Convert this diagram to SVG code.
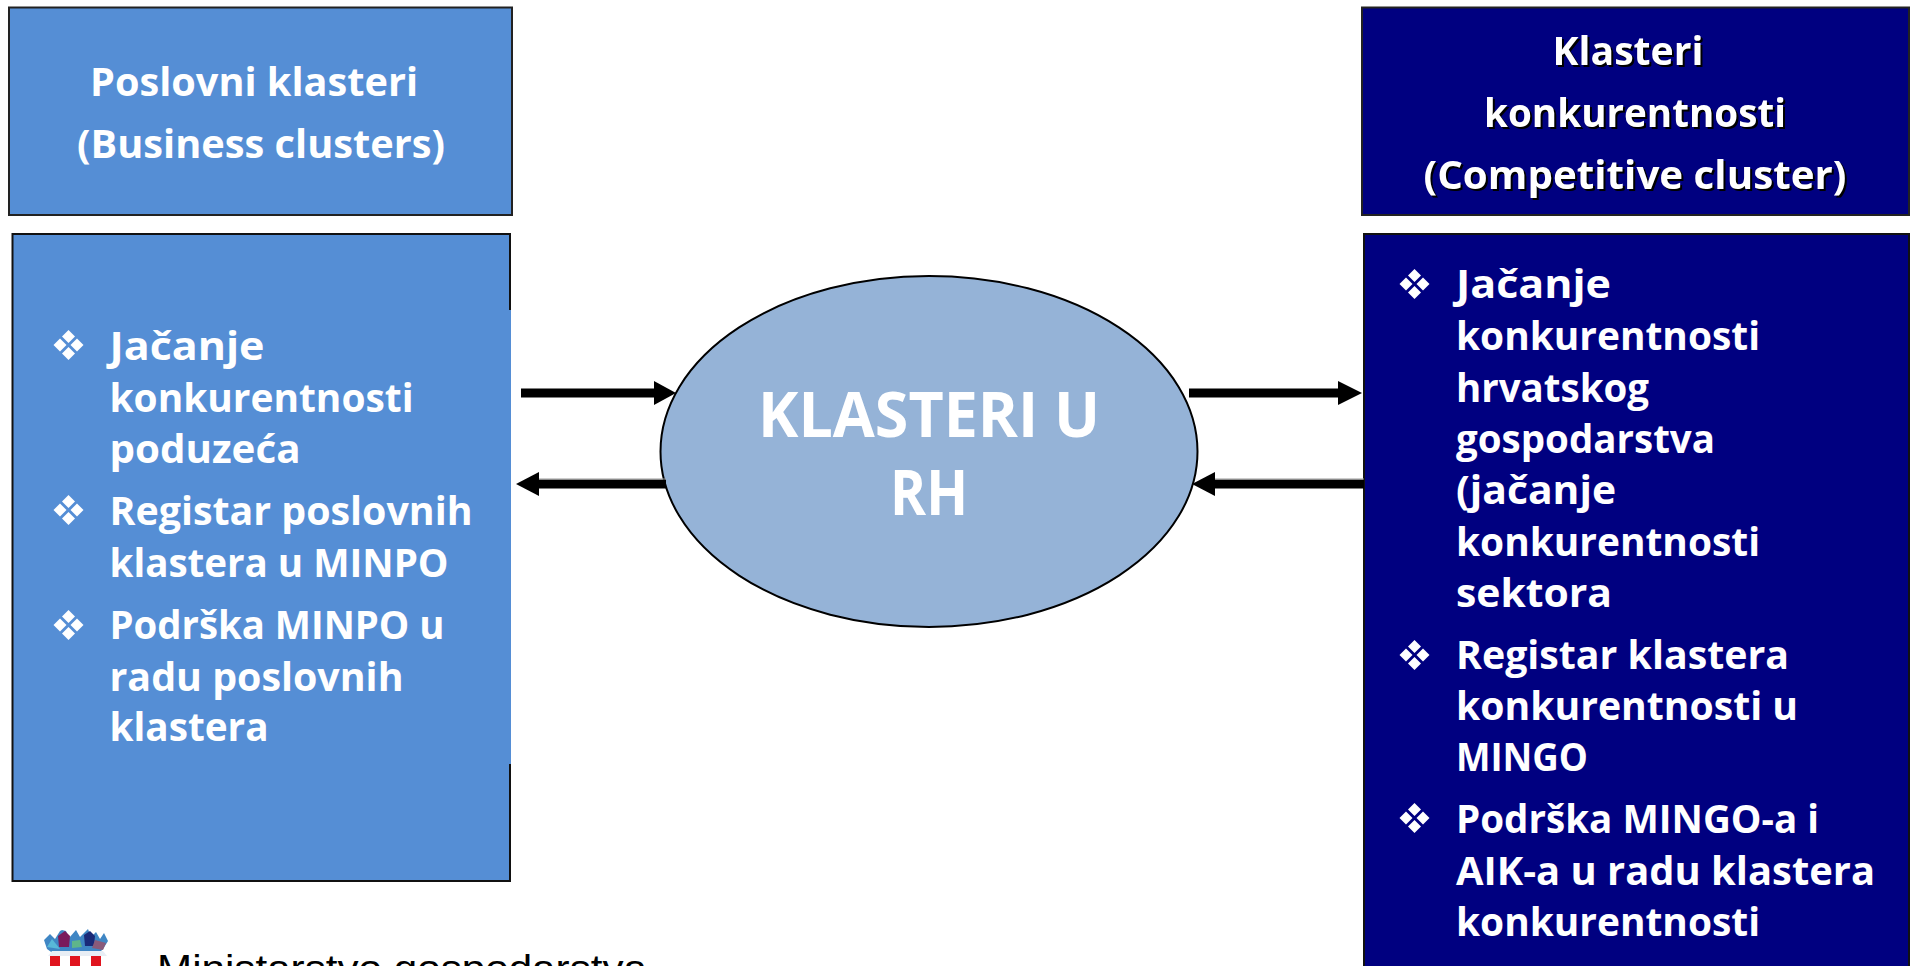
<svg xmlns="http://www.w3.org/2000/svg" width="1915" height="966" viewBox="0 0 1915 966">
<style>
.lb{fill:#558ed5}.nv{fill:#000080}
.t{font-family:"Open Sans","Noto Sans","DejaVu Sans",sans-serif;font-weight:700;font-size:40px;fill:#fff}
.h{text-anchor:middle}
.big{font-size:63px}
.sh{filter:drop-shadow(2px 2px 0 #000)}
.d{fill:#fff}
.conn{stroke:#000;stroke-width:9;fill:none}
.edge{stroke:#999;stroke-width:1;fill:none}
.foot{font-family:"Liberation Sans",Arial,sans-serif;font-size:37px;fill:#000}
</style>
<defs>
<g id="bullet" class="d"><path d="M0-15 6.500-8.500 0-2-6.500-8.500Z"/><path d="M0 2 6.500 8.500 0 15-6.500 8.500Z"/><path d="M-8.500-6.500-2 0-8.500 6.500-15 0Z"/><path d="M8.500-6.500 15 0 8.500 6.500 2 0Z"/></g>
</defs>
<rect width="1915" height="966" fill="#fff"/>
<g id="node-business-header">
<rect x="9" y="7.500" width="503" height="207.500" class="lb" stroke="#222" stroke-width="2"/>
<text class="t h" x="254" y="96" textLength="328" lengthAdjust="spacingAndGlyphs">Poslovni klasteri</text>
<text class="t h" x="261" y="157.500" textLength="368" lengthAdjust="spacingAndGlyphs">(Business clusters)</text>
</g>
<g id="node-business-body">
<rect x="12.500" y="234" width="497.500" height="647" class="lb" stroke="#111" stroke-width="2"/>
<rect x="480" y="310" width="31" height="454" class="lb"/>
<use href="#bullet" x="68.500" y="345"/>
<text class="t" x="109.500" y="359.500" textLength="155" lengthAdjust="spacingAndGlyphs">Jačanje</text>
<text class="t" x="109.500" y="411.500" textLength="304" lengthAdjust="spacingAndGlyphs">konkurentnosti</text>
<text class="t" x="109.500" y="462.500" textLength="191" lengthAdjust="spacingAndGlyphs">poduzeća</text>
<use href="#bullet" x="68.500" y="510"/>
<text class="t" x="109.500" y="525" textLength="363" lengthAdjust="spacingAndGlyphs">Registar poslovnih</text>
<text class="t" x="109.500" y="576.500" textLength="339" lengthAdjust="spacingAndGlyphs">klastera u MINPO</text>
<use href="#bullet" x="68.500" y="625"/>
<text class="t" x="109.500" y="639" textLength="335" lengthAdjust="spacingAndGlyphs">Podrška MINPO u</text>
<text class="t" x="109.500" y="691" textLength="294" lengthAdjust="spacingAndGlyphs">radu poslovnih</text>
<text class="t" x="109.500" y="741" textLength="159" lengthAdjust="spacingAndGlyphs">klastera</text>
</g>
<g id="node-competitive-header">
<rect x="1362" y="7.500" width="547" height="207.500" class="nv" stroke="#222" stroke-width="2"/>
<g class="sh">
<text class="t h" x="1628" y="64.500" textLength="151" lengthAdjust="spacingAndGlyphs">Klasteri</text>
<text class="t h" x="1635" y="127" textLength="302" lengthAdjust="spacingAndGlyphs">konkurentnosti</text>
<text class="t h" x="1635" y="189" textLength="423" lengthAdjust="spacingAndGlyphs">(Competitive cluster)</text>
</g>
</g>
<g id="node-competitive-body">
<rect x="1364" y="234" width="545" height="740" class="nv" stroke="#111" stroke-width="2"/>
<use href="#bullet" x="1414.500" y="284"/>
<text class="t" x="1456" y="297.500" textLength="155" lengthAdjust="spacingAndGlyphs">Jačanje</text>
<text class="t" x="1456" y="349.500" textLength="304" lengthAdjust="spacingAndGlyphs">konkurentnosti</text>
<text class="t" x="1456" y="401.500" textLength="193" lengthAdjust="spacingAndGlyphs">hrvatskog</text>
<text class="t" x="1456" y="452.500" textLength="259" lengthAdjust="spacingAndGlyphs">gospodarstva</text>
<text class="t" x="1456" y="503.500" textLength="160" lengthAdjust="spacingAndGlyphs">(jačanje</text>
<text class="t" x="1456" y="555.500" textLength="304" lengthAdjust="spacingAndGlyphs">konkurentnosti</text>
<text class="t" x="1456" y="606.500" textLength="156" lengthAdjust="spacingAndGlyphs">sektora</text>
<use href="#bullet" x="1414.500" y="655"/>
<text class="t" x="1456" y="668.500" textLength="333" lengthAdjust="spacingAndGlyphs">Registar klastera</text>
<text class="t" x="1456" y="720" textLength="342" lengthAdjust="spacingAndGlyphs">konkurentnosti u</text>
<text class="t" x="1456" y="771" textLength="132" lengthAdjust="spacingAndGlyphs">MINGO</text>
<use href="#bullet" x="1414.500" y="818"/>
<text class="t" x="1456" y="833" textLength="363" lengthAdjust="spacingAndGlyphs">Podrška MINGO-a i</text>
<text class="t" x="1456" y="885" textLength="419" lengthAdjust="spacingAndGlyphs">AIK-a u radu klastera</text>
<text class="t" x="1456" y="936" textLength="304" lengthAdjust="spacingAndGlyphs">konkurentnosti</text>
</g>
<g id="node-center">
<ellipse cx="929" cy="451.500" rx="268.500" ry="175.500" fill="#95b3d7" stroke="#000" stroke-width="2"/>
<text class="t h big" x="929" y="436.500" textLength="342" lengthAdjust="spacingAndGlyphs">KLASTERI U</text>
<text class="t h big" x="929" y="514.500" textLength="78" lengthAdjust="spacingAndGlyphs">RH</text>
</g>
<g id="connectors">
<path class="conn" d="M521 393H656"/><path d="M654 381 676 393 654 405Z"/>
<path class="conn" d="M666 484H537"/><path d="M539 472 516 484 539 496Z"/><path class="edge" d="M539 479H666"/>
<path class="conn" d="M1189 393H1340"/><path d="M1338 381 1362 393 1338 405Z"/>
<path class="conn" d="M1364 484H1213"/><path d="M1215 472 1192 484 1215 496Z"/><path class="edge" d="M1215 479H1364"/>
</g>
<g id="logo">
<path d="M44 940 50 934 55 939 60 931 62 930 66 931 69 938 76 930 80 937 88 929 91 937 96 932 100 939 104 933 108 941 103 949 98 954H54L47 949Z" fill="#3f86c4"/>
<path d="M58 936 65 931 70 936 69 947 59 947Z" fill="#7a1a5c"/>
<path d="M84 935 90 931 95 936 94 946 85 946Z" fill="#1a2a78"/>
<path d="M72 941 80 940 82 947 72 948Z" fill="#5fb58a"/>
<path d="M95 940 106 943 103 950 92 948Z" fill="#8a5a7a"/>
<path d="M47 947 60 949 52 939Z" fill="#58b8d8"/>
<path d="M52 951H103L107 956H48Z" fill="#e8eef5"/>
<rect x="50" y="956" width="10" height="10" fill="#e0141e"/>
<rect x="70" y="956" width="10" height="10" fill="#e0141e"/>
<rect x="91" y="956" width="10" height="10" fill="#e0141e"/>
<text class="foot" x="157" y="980.500" textLength="490" lengthAdjust="spacingAndGlyphs">Ministarstvo gospodarstva</text>
</g>
</svg>
